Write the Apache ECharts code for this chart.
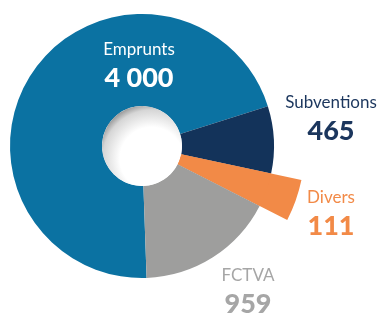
<!DOCTYPE html>
<html>
<head>
<meta charset="utf-8">
<script src="https://cdn.jsdelivr.net/npm/echarts@6/dist/echarts.min.js"></script>
<style>
  html, body { margin: 0; padding: 0; background: #fff; }
  #chart { width: 379px; height: 313px; }
</style>
</head>
<body>
<div id="chart"></div>
<script>
// données
var categories = ['Emprunts', 'Subventions', 'Divers', 'FCTVA'];
var values = [4000, 465, 111, 959];
var colors = ['#0b72a2', '#13335a', '#f28a47', '#9e9e9d'];
var labelColors = ['#ffffff', '#1b365d', '#f28a47', '#a6a6a6'];

// position des étiquettes (centre du bloc)
var labelPos = [[139, 66], [331, 119], [331, 214], [248, 292]];

var cx = 142, cy = 146;

function fmt(v) {
    return String(v).replace(/\B(?=(\d{3})+(?!\d))/g, ' ');
}

var chart = echarts.init(document.getElementById('chart'));

var mainData = categories.map(function (name, i) {
    return {
        name: name,
        value: values[i],
        itemStyle: { color: colors[i] },
        label: {
            rich: {
                n: { color: labelColors[i] },
                v: { color: labelColors[i] }
            }
        }
    };
});

// seconde couche : seule la part "Divers" dépasse
var outerData = categories.map(function (name, i) {
    return {
        name: name,
        value: values[i],
        itemStyle: { color: name === 'Divers' ? colors[i] : 'rgba(0,0,0,0)' }
    };
});

var option = {
    animation: false,
    textStyle: { fontFamily: 'Lato' },
    graphic: [{
        type: 'circle',
        shape: { cx: cx, cy: cy, r: 40 },
        style: {
            fill: new echarts.graphic.RadialGradient(0.62, 0.66, 0.72, [
                { offset: 0, color: '#ffffff' },
                { offset: 0.55, color: '#ffffff' },
                { offset: 0.85, color: '#d6d6d6' },
                { offset: 1, color: '#8a8a8a' }
            ])
        },
        z: 10
    }],
    series: [{
        type: 'pie',
        center: [cx, cy],
        radius: [40, 163],
        startAngle: 272,
        minAngle: 15,
        silent: true,
        z: 1,
        label: { show: false },
        labelLine: { show: false },
        data: outerData
    }, {
        type: 'pie',
        center: [cx, cy],
        radius: [40, 132],
        startAngle: 272,
        minAngle: 15,
        silent: true,
        avoidLabelOverlap: false,
        z: 2,
        labelLine: { show: false },
        label: {
            show: true,
            position: 'inside',
            overflow: 'none',
            formatter: function (p) {
                return '{n|' + p.name + '}\n{v|' + fmt(p.value) + '}';
            },
            rich: {
                n: { fontFamily: 'Lato', fontSize: 17, lineHeight: 24 },
                v: { fontFamily: 'Lato', fontSize: 27, fontWeight: 900, lineHeight: 32 }
            }
        },
        labelLayout: function (params) {
            var p = labelPos[params.dataIndex];
            return { x: p[0], y: p[1], align: 'center', verticalAlign: 'middle', hideOverlap: false, moveOverlap: null };
        },
        data: mainData
    }]
};

chart.setOption(option);
</script>
</body>
</html>
